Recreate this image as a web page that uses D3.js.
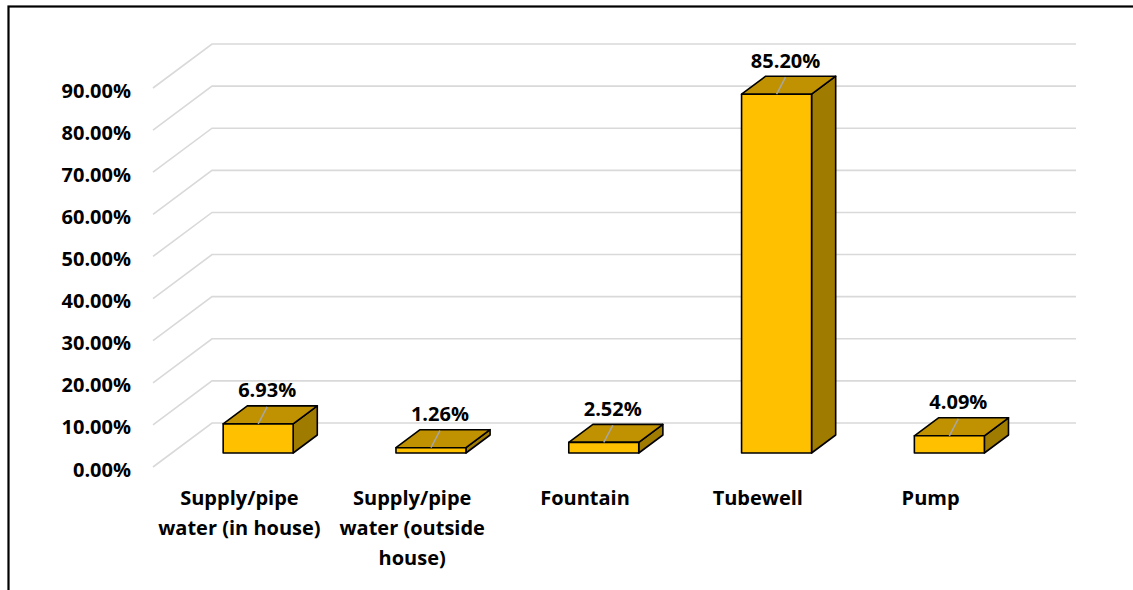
<!DOCTYPE html>
<html lang="en">
<head>
    <meta charset="UTF-8">
    <title>Water Source 3D Bar Chart</title>
    <script src="https://d3js.org/d3.v7.min.js"></script>
    <style>
        body {
            margin: 0;
            background: #fff;
            font-family: "Open Sans", Lato, Arial, sans-serif;
        }
        svg text {
            font-weight: bold;
            fill: #000;
        }
    </style>
</head>
<body>
    <svg width="1133" height="590"></svg>

    <script>
        // data
        const categories = ["Supply/pipe water (in house)", "Supply/pipe water (outside house)", "Fountain", "Tubewell", "Pump"];
        const values = [6.93, 1.26, 2.52, 85.20, 4.09];
        const categoryLines = [
            ["Supply/pipe", "water (in house)"],
            ["Supply/pipe", "water (outside", "house)"],
            ["Fountain"],
            ["Tubewell"],
            ["Pump"]
        ];
        const tickValues = [0, 10, 20, 30, 40, 50, 60, 70, 80, 90];

        const width = 1133;
        const height = 590;
        const svg = d3.select("svg");

        // outer frame (runs off the right and bottom of the picture)
        svg.append("rect")
            .attr("x", 8.5).attr("y", 6.5)
            .attr("width", 1200).attr("height", 700)
            .attr("fill", "none")
            .attr("stroke", "#000")
            .attr("stroke-width", 2.2);

        // front plane scales
        const x = d3.scaleBand()
            .domain(categories)
            .range([153, 1017])
            .paddingInner(0.595)
            .paddingOuter(0.2975);

        const y = d3.scaleLinear()
            .domain([0, 90])
            .range([467, 88]);

        // depth vector for the 3D look
        const depthX = 59, depthY = -44;
        const d0 = 0.318, d1 = 0.727;
        const proj = (px, py, d) => [px + depthX * d, py + depthY * d];

        // gridlines: side wall diagonal + back wall horizontal
        const grid = svg.append("g");
        grid.selectAll("path")
            .data(tickValues)
            .join("path")
            .attr("d", t => {
                const yf = y(t);
                const [bx, by] = proj(153, yf, 1);
                return `M153,${yf}L${bx},${by}L${1017 + depthX},${by}`;
            })
            .attr("fill", "none")
            .attr("stroke", "#d9d9d9")
            .attr("stroke-width", 1.6);

        // y axis labels
        svg.append("g")
            .selectAll("text")
            .data(tickValues)
            .join("text")
            .attr("x", 131)
            .attr("y", t => y(t) + 2)
            .attr("text-anchor", "end")
            .attr("dominant-baseline", "central")
            .style("font-size", "20px")
            .text(t => d3.format(".2f")(t) + "%");

        // bars
        const bars = svg.append("g")
            .selectAll("g")
            .data(categories.map((c, i) => ({ c, v: values[i] })))
            .join("g");

        const pts = arr => arr.map(p => p.join(",")).join(" ");

        bars.each(function (d) {
            const g = d3.select(this);
            const xl = x(d.c), xr = x(d.c) + x.bandwidth();
            const yt = y(d.v), yb = y(0);

            // right side
            g.append("polygon")
                .attr("points", pts([proj(xr, yt, d0), proj(xr, yt, d1), proj(xr, yb, d1), proj(xr, yb, d0)]))
                .attr("fill", "#9f7b00")
                .attr("stroke", "#000").attr("stroke-width", 1.6).attr("stroke-linejoin", "round");
            // top
            g.append("polygon")
                .attr("points", pts([proj(xl, yt, d0), proj(xr, yt, d0), proj(xr, yt, d1), proj(xl, yt, d1)]))
                .attr("fill", "#c09100")
                .attr("stroke", "#000").attr("stroke-width", 1.6).attr("stroke-linejoin", "round");
            // front
            g.append("polygon")
                .attr("points", pts([proj(xl, yt, d0), proj(xr, yt, d0), proj(xr, yb, d0), proj(xl, yb, d0)]))
                .attr("fill", "#ffc000")
                .attr("stroke", "#000").attr("stroke-width", 1.6).attr("stroke-linejoin", "round");

            // leader line + data label
            const cx = (xl + xr) / 2;
            const [fx, fy] = proj(cx, yt, d0);
            const lx = fx + 9, ly = fy - 17;
            g.append("line")
                .attr("x1", fx).attr("y1", fy)
                .attr("x2", lx).attr("y2", ly)
                .attr("stroke", "#a6a6a6")
                .attr("stroke-width", 1.5);
            g.append("text")
                .attr("x", lx)
                .attr("y", ly - 17)
                .attr("text-anchor", "middle")
                .attr("dominant-baseline", "central")
                .style("font-size", "20px")
                .text(d3.format(".2f")(d.v) + "%");
        });

        // category labels (front edge of the floor)
        svg.append("g")
            .selectAll("text")
            .data(categories)
            .join("text")
            .attr("x", c => x(c) + x.bandwidth() / 2)
            .attr("y", 505)
            .attr("text-anchor", "middle")
            .style("font-size", "20px")
            .each(function (c, i) {
                d3.select(this).selectAll("tspan")
                    .data(categoryLines[i])
                    .join("tspan")
                    .attr("x", x(c) + x.bandwidth() / 2)
                    .attr("dy", (l, j) => j === 0 ? 0 : 30)
                    .text(l => l);
            });
    </script>
</body>
</html>
